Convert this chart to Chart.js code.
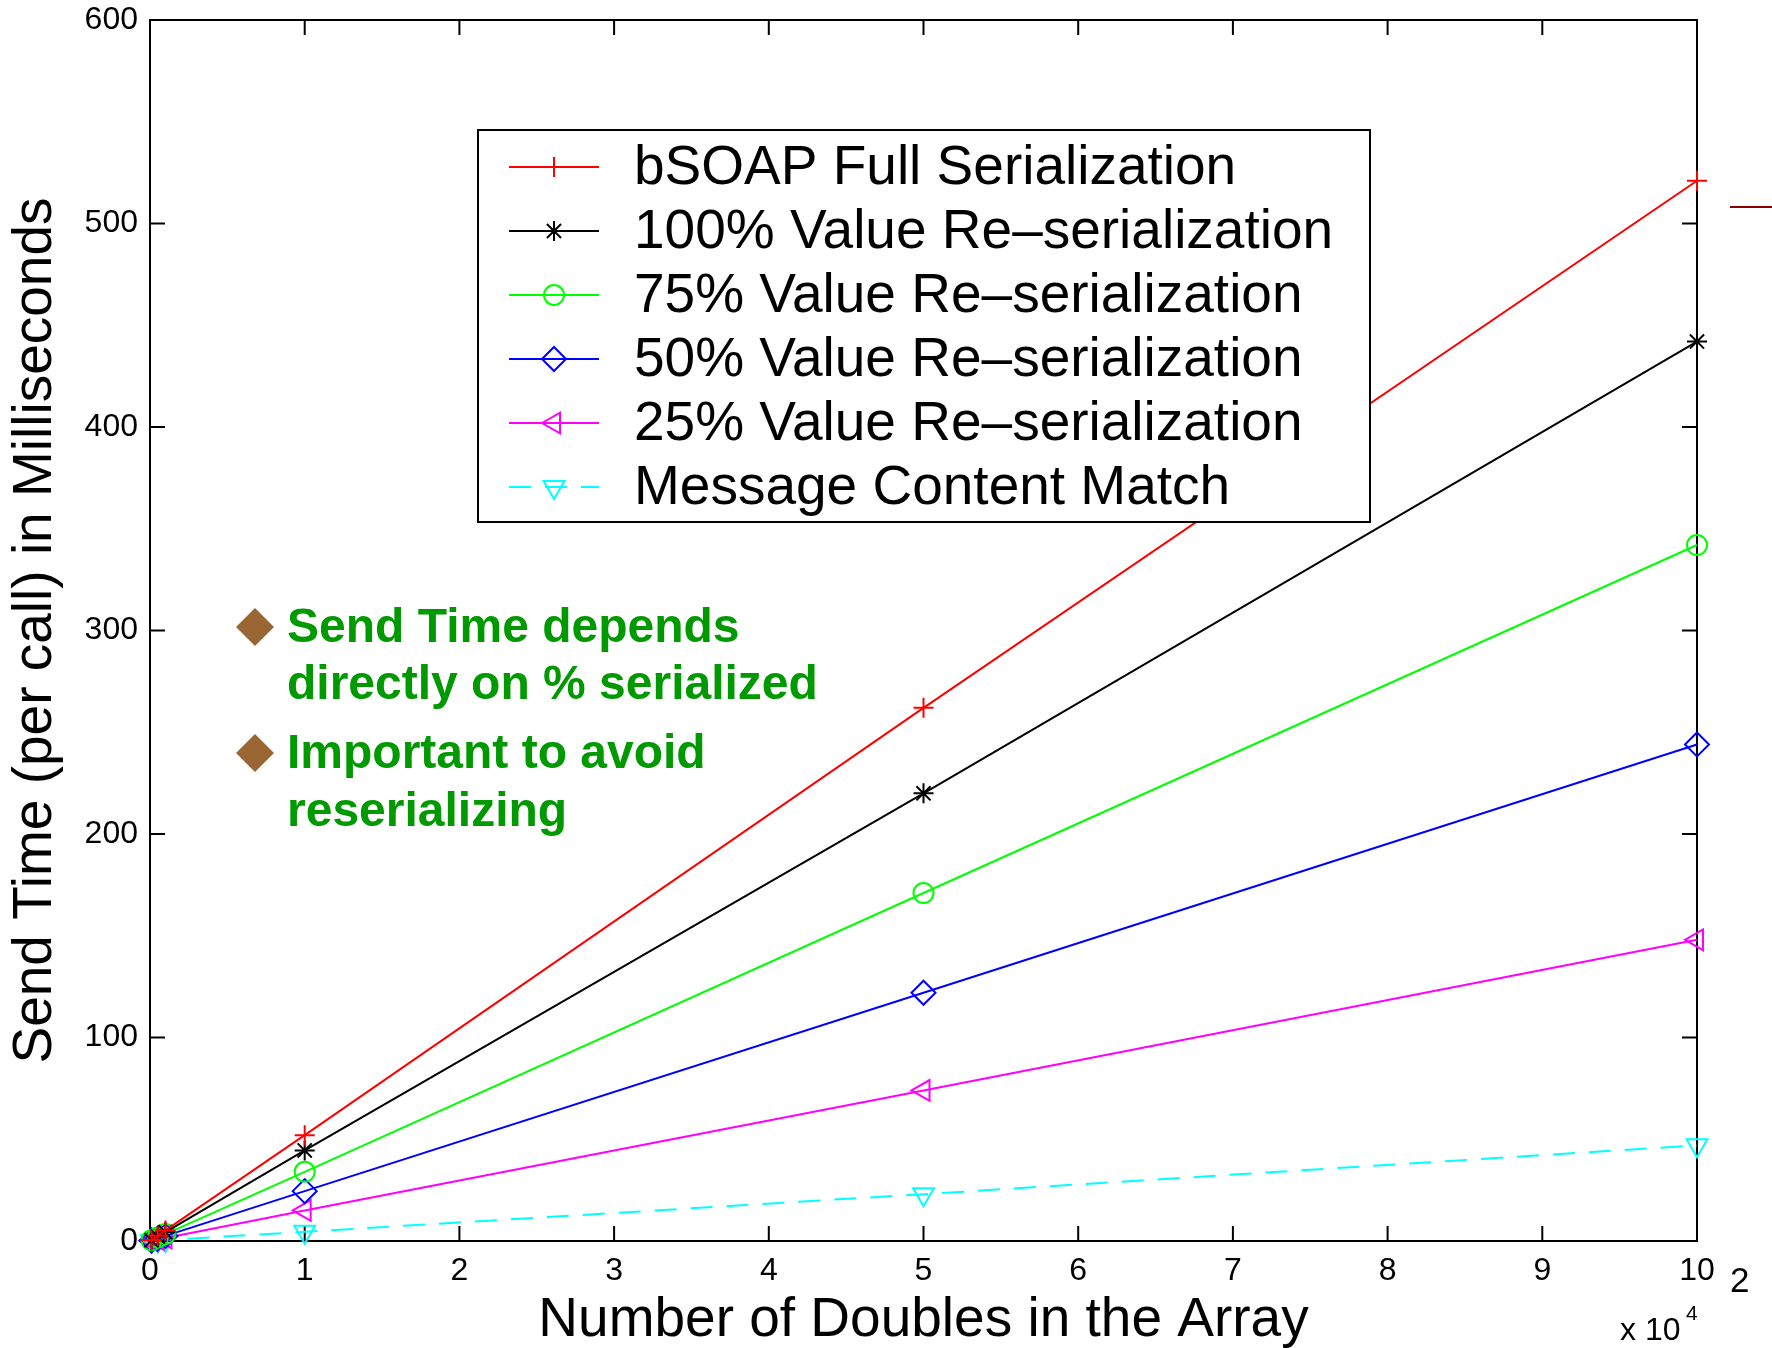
<!DOCTYPE html>
<html>
<head>
<title>Send Time vs Number of Doubles</title>
<style>
  html, body { margin: 0; padding: 0; background: #ffffff; }
  #wrap { width: 1772px; height: 1348px; }
</style>
</head>
<body>
<div id="wrap"><canvas id="myChart" width="1772" height="1348"></canvas></div>
<script src="https://cdn.jsdelivr.net/npm/chart.js@4.4.1/dist/chart.umd.min.js"></script>
<script>
// array sizes (number of doubles) and send time in ms for each series
var arraySizes = [100, 500, 1000, 10000, 50000, 100000];
var fullSerial = [0.5, 2.6, 5.2, 52, 262, 521];
var reser100 = [0.4, 2.2, 4.4, 44.5, 220, 442];
var reser75 = [0.35, 1.7, 3.4, 34, 171, 342];
var reser50 = [0.25, 1.2, 2.5, 24.5, 122, 244];
var reser25 = [0.15, 0.75, 1.5, 15, 74, 148];
var contentMatch = [0.05, 0.25, 0.5, 4.5, 23, 47];

var seriesNames = ['bSOAP Full Serialization', '100% Value Re\u2013serialization',
  '75% Value Re\u2013serialization', '50% Value Re\u2013serialization',
  '25% Value Re\u2013serialization', 'Message Content Match'];

var notes = [['Send Time depends', 'directly on % serialized'], ['Important to avoid', 'reserializing']];

var FONT = '"Liberation Sans", Arial, Helvetica, sans-serif';

function pts(vals) {
  return arraySizes.map(function (x, i) { return {x: x, y: vals[i]}; });
}

function series(label, vals, color, style, rot, radius, dash) {
  return {
    label: label,
    data: pts(vals),
    borderColor: color,
    backgroundColor: color,
    borderWidth: 2,
    borderDash: dash || [],
    pointStyle: style,
    pointRotation: rot,
    pointRadius: radius,
    pointBorderWidth: 2,
    pointBorderColor: color,
    pointBackgroundColor: 'rgba(0,0,0,0)',
    tension: 0,
    clip: false
  };
}

var datasets = [
  series(seriesNames[0], fullSerial, '#ff0000', 'cross', 0, 10),
  series(seriesNames[1], reser100, '#000000', 'star', 0, 10),
  series(seriesNames[2], reser75, '#00ff00', 'circle', 0, 10),
  series(seriesNames[3], reser50, '#0000ff', 'rectRot', 0, 12),
  series(seriesNames[4], reser25, '#ff00ff', 'triangle', -90, 12),
  series(seriesNames[5], contentMatch, '#00ffff', 'triangle', 180, 12, [22, 14])
];

// box + inward ticks like matlab
var frame = {
  id: 'frame',
  beforeDatasetsDraw: function (chart) {
    var ctx = chart.ctx, a = chart.chartArea;
    var xs = chart.scales.x, ys = chart.scales.y;
    ctx.save();
    ctx.strokeStyle = '#000';
    ctx.lineWidth = 2;
    ctx.beginPath();
    xs.ticks.forEach(function (t) {
      var px = xs.getPixelForValue(t.value);
      ctx.moveTo(px, a.bottom); ctx.lineTo(px, a.bottom - 15);
      ctx.moveTo(px, a.top); ctx.lineTo(px, a.top + 15);
    });
    ys.ticks.forEach(function (t) {
      var py = ys.getPixelForValue(t.value);
      ctx.moveTo(a.left, py); ctx.lineTo(a.left + 15, py);
      ctx.moveTo(a.right, py); ctx.lineTo(a.right - 15, py);
    });
    ctx.stroke();
    ctx.strokeRect(a.left, a.top, a.right - a.left, a.bottom - a.top);
    ctx.restore();
  }
};

var boxLegend = {
  id: 'boxLegend',
  afterDatasetsDraw: function (chart) {
    var ctx = chart.ctx;
    var bx = 478, by = 130, bw = 892, bh = 392;
    ctx.save();
    ctx.fillStyle = '#ffffff';
    ctx.fillRect(bx, by, bw, bh);
    ctx.strokeStyle = '#000';
    ctx.lineWidth = 2;
    ctx.strokeRect(bx, by, bw, bh);
    chart.data.datasets.forEach(function (ds, i) {
      var y = 167 + i * 64;
      ctx.strokeStyle = ds.borderColor;
      ctx.lineWidth = 2;
      ctx.setLineDash(ds.borderDash);
      ctx.beginPath();
      ctx.moveTo(509, y); ctx.lineTo(599, y);
      ctx.stroke();
      ctx.setLineDash([]);
      if (Chart.helpers && Chart.helpers.drawPoint) {
        ctx.fillStyle = 'rgba(0,0,0,0)';
        Chart.helpers.drawPoint(ctx, {
          pointStyle: ds.pointStyle, rotation: ds.pointRotation,
          radius: ds.pointRadius, borderWidth: 2
        }, 554, y);
      }
      ctx.fillStyle = '#000';
      ctx.font = '55px ' + FONT;
      ctx.textAlign = 'left';
      ctx.textBaseline = 'middle';
      ctx.fillText(ds.label, 634, y + 2);
    });
    ctx.restore();
  }
};

var extras = {
  id: 'extras',
  afterDraw: function (chart) {
    var ctx = chart.ctx;
    ctx.save();
    // green notes with brown diamonds
    var rows = [627, 684, 753, 811];
    var k = 0;
    notes.forEach(function (lines) {
      var cy = rows[k];
      ctx.fillStyle = '#996633';
      ctx.beginPath();
      ctx.moveTo(255, cy - 19); ctx.lineTo(274, cy); ctx.lineTo(255, cy + 19); ctx.lineTo(236, cy);
      ctx.closePath();
      ctx.fill();
      lines.forEach(function (t) {
        ctx.fillStyle = '#009900';
        ctx.font = 'bold 48px ' + FONT;
        ctx.textAlign = 'left';
        ctx.textBaseline = 'middle';
        ctx.fillText(t, 287, rows[k] + 2);
        k++;
      });
    });
    // exponent label
    ctx.fillStyle = '#000';
    ctx.textBaseline = 'alphabetic';
    ctx.font = '32px ' + FONT;
    ctx.fillText('x 10', 1620, 1340);
    ctx.font = '21px ' + FONT;
    ctx.fillText('4', 1686, 1320);
    // slide leftovers at the right edge
    ctx.font = '35px ' + FONT;
    ctx.fillText('2', 1730, 1292);
    ctx.strokeStyle = '#8b0000';
    ctx.lineWidth = 2;
    ctx.beginPath();
    ctx.moveTo(1730, 207); ctx.lineTo(1772, 207);
    ctx.stroke();
    ctx.restore();
  }
};

var config = {
  type: 'line',
  data: { datasets: datasets },
  options: {
    responsive: false,
    animation: false,
    devicePixelRatio: 1,
    layout: { padding: { left: 0, top: 20, right: 75, bottom: 0 } },
    plugins: { legend: { display: false }, tooltip: { enabled: false } },
    scales: {
      x: {
        type: 'linear',
        min: 0, max: 100000,
        grid: { display: false, drawTicks: false },
        border: { display: false },
        ticks: {
          stepSize: 10000, autoSkip: false, maxRotation: 0, padding: 11,
          color: '#000', font: { family: FONT, size: 32 },
          callback: function (v) { return String(v / 10000); }
        },
        title: {
          display: true, text: 'Number of Doubles in the Array', color: '#000',
          font: { family: FONT, size: 55, lineHeight: 1 }, padding: 0
        },
        afterFit: function (s) { s.height = 107; s.paddingLeft = 0; s.paddingRight = 0; }
      },
      y: {
        min: 0, max: 600,
        grid: { display: false, drawTicks: false },
        border: { display: false },
        ticks: {
          stepSize: 100, padding: 12, color: '#000',
          font: { family: FONT, size: 32 }
        },
        title: {
          display: true, text: 'Send Time (per call) in Milliseconds', color: '#000',
          font: { family: FONT, size: 55, lineHeight: 1.2 }, padding: { top: 3, bottom: 0 }
        },
        afterFit: function (s) { s.width = 150; s.paddingTop = 0; s.paddingBottom = 0; }
      }
    }
  },
  plugins: [frame, boxLegend, extras]
};

window.onload = function () {
  var ctx = document.getElementById('myChart').getContext('2d');
  window.myLine = new Chart(ctx, config);
};
</script>
</body>
</html>
